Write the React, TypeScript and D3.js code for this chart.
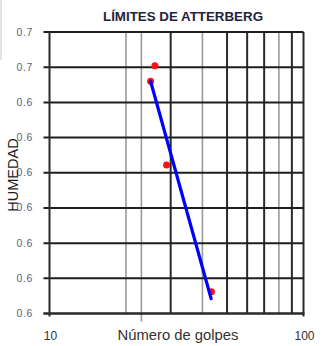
import React from "react";
import * as d3 from "d3";

const title = "LÍMITES DE ATTERBERG";
const xTitle = "Número de golpes";
const yTitle = "HUMEDAD";

// measured points (blows, moisture)
const golpes = [26.0, 25.0, 28.9, 43.4];
const humedad = [0.6532, 0.651, 0.6391, 0.6211];

// trend line end points
const trendX = [25.0, 43.3];
const trendY = [0.651, 0.6201];

// axes
const xDomain = [10, 100];
const xGrid = [20, 23, 30, 40, 50, 60, 70, 80, 90, 100];
const xLightGrid = [20, 23, 40, 80];
const xLabels = [10, 100];
const refGolpes = 23;
const yDomain = [0.618, 0.658];
const yTicks = [0.658, 0.653, 0.648, 0.643, 0.638, 0.633, 0.628, 0.623, 0.618];

const W = 329;
const H = 346;
const L = 49.5;
const R = 303.5;
const T = 32;
const B = 313.5;

export default function App() {
  const x = d3.scaleLog().domain(xDomain).range([L, R]);
  const y = d3.scaleLinear().domain(yDomain).range([B, T]);
  const fmt = d3.format(".1f");
  const line = d3
    .line<number>()
    .x((d, i) => x(trendX[i]))
    .y((d, i) => y(trendY[i]));

  return (
    <svg
      width={W}
      height={H}
      style={{ position: "absolute", left: 0, top: 0, background: "#fff" }}
      fontFamily="Liberation Sans, Arial, sans-serif"
    >
      <line x1={1} x2={1} y1={0} y2={60} stroke="#c8c8c8" strokeWidth={1} />
      <text
        x={183}
        y={21}
        textAnchor="middle"
        fontSize={12.5}
        fontWeight="bold"
        fill="#23233a"
        textLength={160}
        lengthAdjust="spacingAndGlyphs"
      >
        {title}
      </text>

      {/* vertical grid */}
      {xGrid.map((v) => {
        const light = xLightGrid.includes(v);
        return (
          <line
            key={"vx" + v}
            x1={x(v)}
            x2={x(v)}
            y1={T}
            y2={B}
            stroke={light ? "#9a9a9a" : "#2a2a2a"}
            strokeWidth={light ? 1.6 : 2}
          />
        );
      })}
      {/* reference tick below axis */}
      <line x1={x(refGolpes)} x2={x(refGolpes)} y1={B} y2={B + 8} stroke="#9a9a9a" strokeWidth={1.6} />

      {/* horizontal grid */}
      {yTicks.map((v) => (
        <line key={"hy" + v} x1={L - 6} x2={R} y1={y(v)} y2={y(v)} stroke="#1e1e1e" strokeWidth={2} />
      ))}
      {yTicks.map((v, i) => (
        <text
          key={"ly" + i}
          x={33}
          y={y(v) + 3.5}
          textAnchor="end"
          fontSize={10.5}
          fill="#5a6478"
          letterSpacing={0.6}
        >
          {fmt(v)}
        </text>
      ))}

      {/* axes */}
      <line x1={L} x2={L} y1={T} y2={B + 3} stroke="#2a2a2a" strokeWidth={2} />
      <line x1={L - 6} x2={R + 1} y1={B} y2={B} stroke="#2a2a2a" strokeWidth={2} />
      <line x1={R} x2={R} y1={B} y2={B + 3} stroke="#2a2a2a" strokeWidth={2} />

      {xLabels.map((v) => (
        <text key={"lx" + v} x={x(v) + 1} y={340} textAnchor="middle" fontSize={12} fill="#333">
          {v}
        </text>
      ))}
      <text x={178} y={340} textAnchor="middle" fontSize={14} fill="#333" textLength={121} lengthAdjust="spacingAndGlyphs">
        {xTitle}
      </text>
      <text
        transform="translate(18,175) rotate(-90)"
        textAnchor="middle"
        fontSize={14.5}
        fill="#1e1e1e"
      >
        {yTitle}
      </text>

      {/* points */}
      {golpes.map((g, i) => (
        <circle key={"p" + i} cx={x(g)} cy={y(humedad[i])} r={3.5} fill="#ff1010" />
      ))}
      {/* trend line */}
      <path d={line(trendX) || ""} fill="none" stroke="#0000ff" strokeWidth={3.2} strokeLinecap="round" />
    </svg>
  );
}
